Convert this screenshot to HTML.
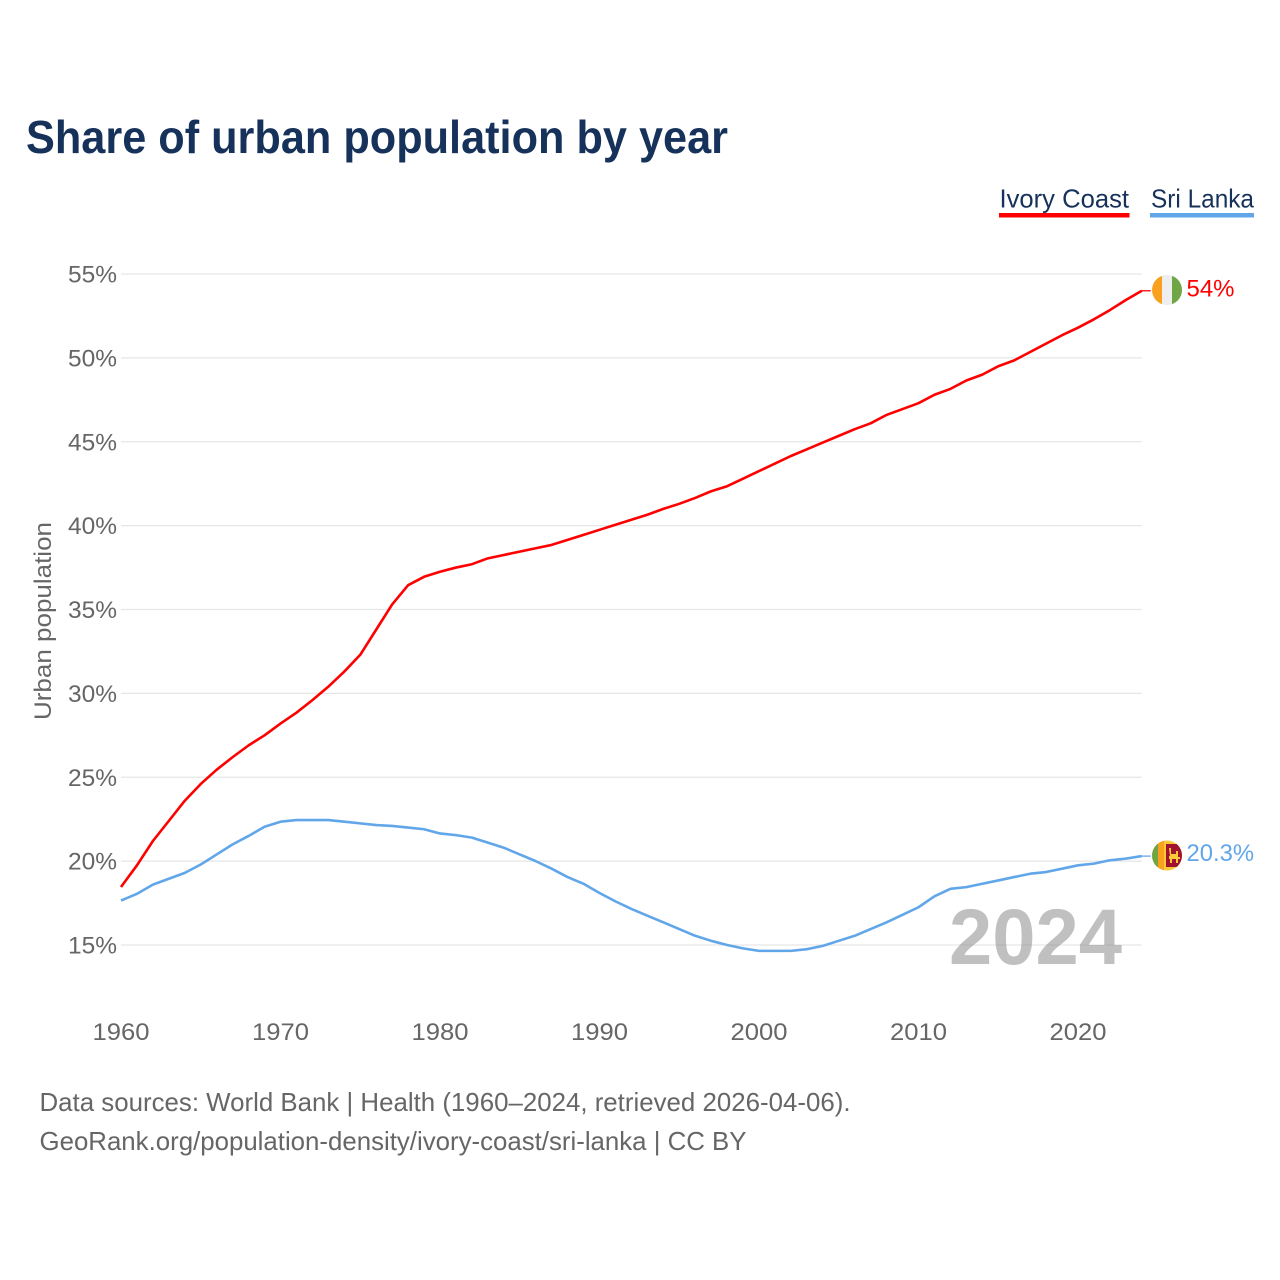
<!DOCTYPE html>
<html lang="en">
<head>
<meta charset="utf-8">
<title>Share of urban population by year</title>
<style>
html,body{margin:0;padding:0;background:#fff;}
svg{display:block;font-family:"Liberation Sans",sans-serif;}
</style>
</head>
<body>
<svg id="chart" xmlns="http://www.w3.org/2000/svg" width="1280" height="1280" viewBox="0 0 1280 1280">
  <rect x="0" y="0" width="1280" height="1280" fill="#ffffff"/>
  <text x="26" y="153" font-size="46" font-weight="700" fill="#17325a" textLength="702" lengthAdjust="spacingAndGlyphs">Share of urban population by year</text>

  <g>
    <text x="999.5" y="207.5" font-size="26" fill="#17325a" textLength="129.5" lengthAdjust="spacingAndGlyphs">Ivory Coast</text>
    <rect x="999" y="213" width="130.5" height="4.5" fill="#ff0000"/>
  </g>
  <g>
    <text x="1151" y="207.5" font-size="26" fill="#17325a" textLength="103" lengthAdjust="spacingAndGlyphs">Sri Lanka</text>
    <rect x="1150" y="213" width="104" height="4.5" fill="#62a6ea"/>
  </g>

  <g id="grid"></g>
  <g id="yticks"></g>
  <g id="xticks"></g>

  <text transform="translate(51,621) rotate(-90)" text-anchor="middle" font-size="24.5" fill="#666666" textLength="198" lengthAdjust="spacingAndGlyphs">Urban population</text>

  <text x="949" y="964" font-size="79" font-weight="700" fill="#8c8c8c" fill-opacity="0.55" textLength="173" lengthAdjust="spacingAndGlyphs">2024</text>

  <g id="series"></g>

  <defs>
    <clipPath id="clip-ci"><circle cx="1167" cy="290" r="15"/></clipPath>
    <clipPath id="clip-lk"><circle cx="1167" cy="855.5" r="15"/></clipPath>
  </defs>

  <g id="flag-ci" clip-path="url(#clip-ci)">
    <rect x="1152" y="275" width="10" height="30" fill="#f9a11f"/>
    <rect x="1162" y="275" width="10" height="30" fill="#eeeeee"/>
    <rect x="1172" y="275" width="10" height="30" fill="#6fa544"/>
  </g>
  <g id="flag-lk" clip-path="url(#clip-lk)">
    <rect x="1152" y="840" width="30" height="31" fill="#f9c93a"/>
    <rect x="1152" y="840" width="6" height="31" fill="#6fa544"/>
    <rect x="1158" y="840" width="6" height="31" fill="#f9a11f"/>
    <rect x="1166" y="844" width="16" height="23" fill="#a0122e"/>
    <path d="M1169 848h2v6h5v-3h2v6h2v2h-2v4h-2v-4h-4v4h-2v-4h-1v-3h1z" fill="#f9c93a"/>
  </g>

  <text id="value-ci" x="1186.5" y="296.5" font-size="24.5" fill="#ff0000" textLength="48" lengthAdjust="spacingAndGlyphs">54%</text>
  <text id="value-lk" x="1186.5" y="861" font-size="24.5" fill="#62a6ea" textLength="67.5" lengthAdjust="spacingAndGlyphs">20.3%</text>

  <text x="39.5" y="1111" font-size="26" fill="#666666" textLength="811" lengthAdjust="spacingAndGlyphs">Data sources: World Bank | Health (1960–2024, retrieved 2026-04-06).</text>
  <text x="39.5" y="1150" font-size="26" fill="#666666" textLength="707" lengthAdjust="spacingAndGlyphs">GeoRank.org/population-density/ivory-coast/sri-lanka | CC BY</text>
</svg>
<script>
const startYear = 1960;
const yTickValues = [15, 20, 25, 30, 35, 40, 45, 50, 55];
const xTickValues = [1960, 1970, 1980, 1990, 2000, 2010, 2020];
const ivoryCoast = [18.46,19.75,21.2,22.4,23.6,24.6,25.45,26.2,26.9,27.5,28.2,28.85,29.6,30.4,31.3,32.3,33.8,35.3,36.45,36.95,37.25,37.5,37.7,38.05,38.25,38.45,38.65,38.85,39.15,39.45,39.75,40.05,40.35,40.65,41.0,41.3,41.65,42.05,42.35,42.8,43.25,43.7,44.15,44.55,44.95,45.35,45.75,46.1,46.6,46.95,47.3,47.8,48.15,48.65,49.0,49.5,49.85,50.35,50.85,51.35,51.8,52.3,52.85,53.45,54.0];
const sriLanka = [17.65,18.05,18.6,18.95,19.3,19.8,20.4,21.0,21.5,22.05,22.35,22.45,22.45,22.45,22.35,22.25,22.15,22.1,22.0,21.9,21.65,21.55,21.4,21.1,20.8,20.4,20.0,19.55,19.05,18.65,18.1,17.6,17.15,16.75,16.35,15.95,15.55,15.25,15.0,14.8,14.65,14.65,14.65,14.75,14.95,15.25,15.55,15.95,16.35,16.8,17.25,17.9,18.35,18.45,18.65,18.85,19.05,19.25,19.35,19.55,19.75,19.85,20.05,20.15,20.3];

const NS = 'http://www.w3.org/2000/svg';
function xScale(year) { return 121 + (year - 1960) * 15.95; }
function yScale(value) { return 945 - (value - 15) * 16.775; }
function make(tag, parent) {
  const el = document.createElementNS(NS, tag);
  parent.appendChild(el);
  return el;
}

const grid = document.getElementById('grid');
const yticks = document.getElementById('yticks');
yTickValues.forEach(function (v) {
  const line = make('line', grid);
  
  
  line.setAttribute('x1', 121);
  line.setAttribute('x2', xScale(2024));
  line.setAttribute('y1', yScale(v));
  line.setAttribute('y2', yScale(v));
  line.setAttribute('stroke', '#e6e6e6');
  line.setAttribute('stroke-width', '1.3');
  const label = make('text', yticks);
  
  
  label.setAttribute('x', 68);
  label.setAttribute('y', yScale(v) + 8.5);
  label.setAttribute('font-size', '24.5');
  label.setAttribute('fill', '#666666');
  label.setAttribute('textLength', '49');
  label.setAttribute('lengthAdjust', 'spacingAndGlyphs');
  label.textContent = v + '%';
});

const xticks = document.getElementById('xticks');
xTickValues.forEach(function (year) {
  const label = make('text', xticks);
  
  
  label.setAttribute('x', xScale(year));
  label.setAttribute('y', 1040);
  label.setAttribute('text-anchor', 'middle');
  label.setAttribute('font-size', '24.5');
  label.setAttribute('fill', '#666666');
  label.setAttribute('textLength', '57');
  label.setAttribute('lengthAdjust', 'spacingAndGlyphs');
  label.textContent = String(year);
});

function seriesPoints(values) {
  return values.map(function (v, i) {
    return xScale(startYear + i).toFixed(2) + ',' + yScale(v).toFixed(2);
  }).join(' ');
}
function lastYear(values) { return startYear + values.length - 1; }
function lastValue(values) { return values[values.length - 1]; }

const seriesGroup = document.getElementById('series');

const polyCI = make('polyline', seriesGroup);


polyCI.setAttribute('points', seriesPoints(ivoryCoast));
polyCI.setAttribute('fill', 'none');
polyCI.setAttribute('stroke', '#ff0000');
polyCI.setAttribute('stroke-width', '2.6');
polyCI.setAttribute('stroke-linejoin', 'round');

const connCI = make('line', seriesGroup);


connCI.setAttribute('x1', xScale(lastYear(ivoryCoast)));
connCI.setAttribute('x2', xScale(lastYear(ivoryCoast)) + 9);
connCI.setAttribute('y1', yScale(lastValue(ivoryCoast)));
connCI.setAttribute('y2', yScale(lastValue(ivoryCoast)));
connCI.setAttribute('stroke', '#ff0000');
connCI.setAttribute('stroke-width', '1.3');

const polyLK = make('polyline', seriesGroup);


polyLK.setAttribute('points', seriesPoints(sriLanka));
polyLK.setAttribute('fill', 'none');
polyLK.setAttribute('stroke', '#62a6ea');
polyLK.setAttribute('stroke-width', '2.6');
polyLK.setAttribute('stroke-linejoin', 'round');

const connLK = make('line', seriesGroup);


connLK.setAttribute('x1', xScale(lastYear(sriLanka)));
connLK.setAttribute('x2', xScale(lastYear(sriLanka)) + 9);
connLK.setAttribute('y1', yScale(lastValue(sriLanka)));
connLK.setAttribute('y2', yScale(lastValue(sriLanka)));
connLK.setAttribute('stroke', '#62a6ea');
connLK.setAttribute('stroke-width', '1.3');
</script>
</body>
</html>
